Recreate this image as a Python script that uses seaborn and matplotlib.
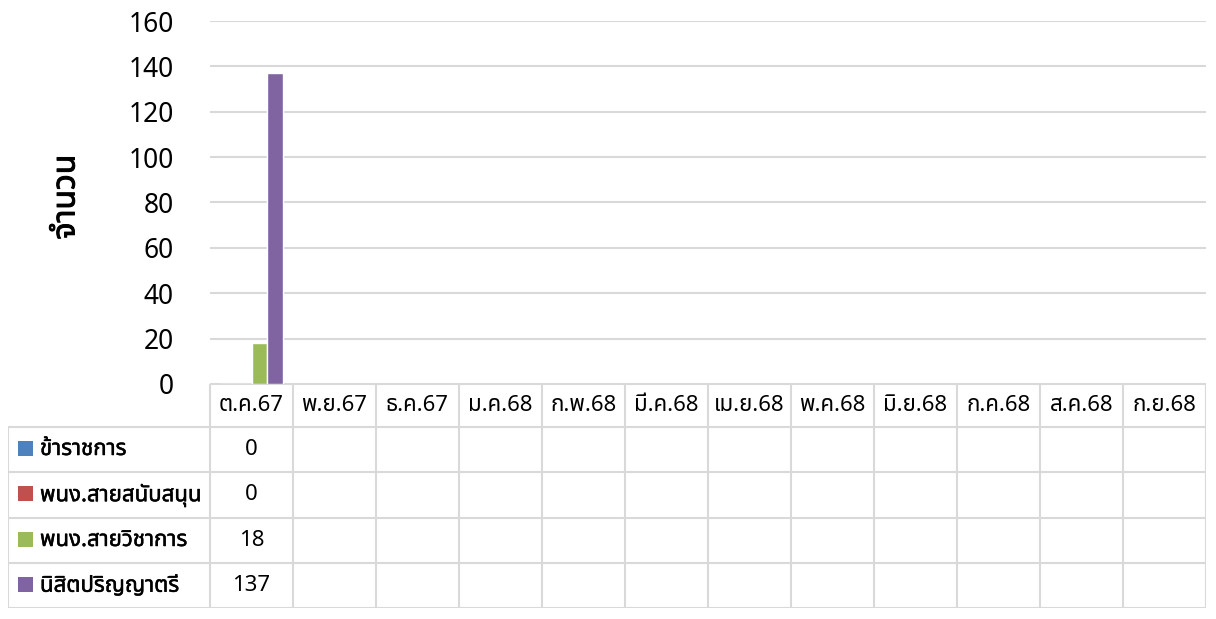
import matplotlib
matplotlib.use('Agg')
import matplotlib.pyplot as plt
import matplotlib.patheffects as pe
from matplotlib import font_manager
from matplotlib.ft2font import FT2Font
from matplotlib.patches import Rectangle
import pandas as pd
import seaborn as sns

months = ['ต.ค.67', 'พ.ย.67', 'ธ.ค.67', 'ม.ค.68', 'ก.พ.68', 'มี.ค.68',
          'เม.ย.68', 'พ.ค.68', 'มิ.ย.68', 'ก.ค.68', 'ส.ค.68', 'ก.ย.68']
series = ['ข้าราชการ', 'พนง.สายสนับสนุน', 'พนง.สายวิชาการ', 'นิสิตปริญญาตรี']
colors = ['#4F81BD', '#C0504D', '#9BBB59', '#8064A2']

# only ต.ค.67 has been filled in so far
civil = [0, None, None, None, None, None, None, None, None, None, None, None]
support = [0, None, None, None, None, None, None, None, None, None, None, None]
academic = [18, None, None, None, None, None, None, None, None, None, None, None]
students = [137, None, None, None, None, None, None, None, None, None, None, None]
rows = [civil, support, academic, students]


def thai_family():
    wanted = ['Noto Sans Thai', 'Noto Sans Thai UI', 'Noto Sans Thai Looped', 'Sarabun',
              'Tahoma', 'Leelawadee UI', 'Loma', 'Garuda', 'Waree', 'Umpush',
              'Kinnari', 'Norasi', 'Noto Serif Thai']
    found = {}
    for f in font_manager.fontManager.ttflist:
        try:
            if 0x0E01 in FT2Font(f.fname).get_charmap():
                found.setdefault(f.name, f.fname)
        except Exception:
            pass
    for name in wanted:
        if name in found:
            return name
    return next(iter(found), 'DejaVu Sans')


sns.set_theme(style='white')
plt.rcParams['font.family'] = [thai_family(), 'DejaVu Sans']

records = []
for name, vals in zip(series, rows):
    for m, v in zip(months, vals):
        if v is not None:
            records.append({'month': m, 'series': name, 'value': v})
df = pd.DataFrame(records)

W, H = 1216, 619
fig = plt.figure(figsize=(W / 100, H / 100), dpi=100)
fig.patch.set_facecolor('white')

# chart area in pixels: x 210..1206, y 21..384
ax = fig.add_axes([210 / W, (H - 384) / H, 996 / W, 363 / H])
sns.barplot(data=df, x='month', y='value', hue='series', order=months, hue_order=series,
            palette=colors, width=0.75, legend=False, ax=ax, saturation=1)
ax.set_xlim(-0.5, len(months) - 0.5)
ax.set_ylim(0, 160)
ax.set_yticks(range(0, 161, 20))
ax.yaxis.grid(True, color='#d9d9d9', lw=1.5)
ax.set_axisbelow(True)
for s in ax.spines.values():
    s.set_visible(False)
ax.set_xticks([])
ax.set_xlabel('')
ax.set_ylabel('จำนวน', fontsize=23, color='#000000',
              path_effects=[pe.withStroke(linewidth=0.7, foreground='black')])
ax.yaxis.set_label_coords(-0.128, 0.515)
ax.tick_params(axis='y', length=0, pad=26, labelsize=19, labelcolor='#000000')

# data table underneath, one column per month
cw = 996 / len(months)
x_left = -0.5 - 202 / cw
tax = fig.add_axes([8 / W, (H - 608) / H, 1198 / W, 224 / H])
tax.set_xlim(x_left, len(months) - 0.5)
tax.set_ylim(224, 0)
tax.axis('off')
line_kw = dict(color='#d9d9d9', lw=1.5, solid_capstyle='butt')
bounds = [0, 43, 88, 134, 179, 224]

tax.plot([-0.5, len(months) - 0.5], [0, 0], **line_kw)
for y in bounds[1:]:
    tax.plot([x_left, len(months) - 0.5], [y, y], **line_kw)
for k in range(len(months) + 1):
    tax.plot([k - 0.5, k - 0.5], [0, 224], **line_kw)
tax.plot([x_left, x_left], [43, 224], **line_kw)

for k, m in enumerate(months):
    tax.text(k, 21.5, m, ha='center', va='center', fontsize=16, color='#000000')

for r, (name, col, vals) in enumerate(zip(series, colors, rows)):
    yc = (bounds[r + 1] + bounds[r + 2]) / 2
    tax.add_patch(Rectangle((x_left + 10 / cw, yc - 9), 15 / cw, 15, color=col, lw=0))
    tax.text(x_left + 32 / cw, yc, name, ha='left', va='center', fontsize=16,
             color='#000000', path_effects=[pe.withStroke(linewidth=0.35, foreground='black')])
    for k, v in enumerate(vals):
        if v is not None:
            tax.text(k, yc, str(v), ha='center', va='center', fontsize=16, color='#000000')

fig.savefig('out.png', dpi=100, facecolor='white')
